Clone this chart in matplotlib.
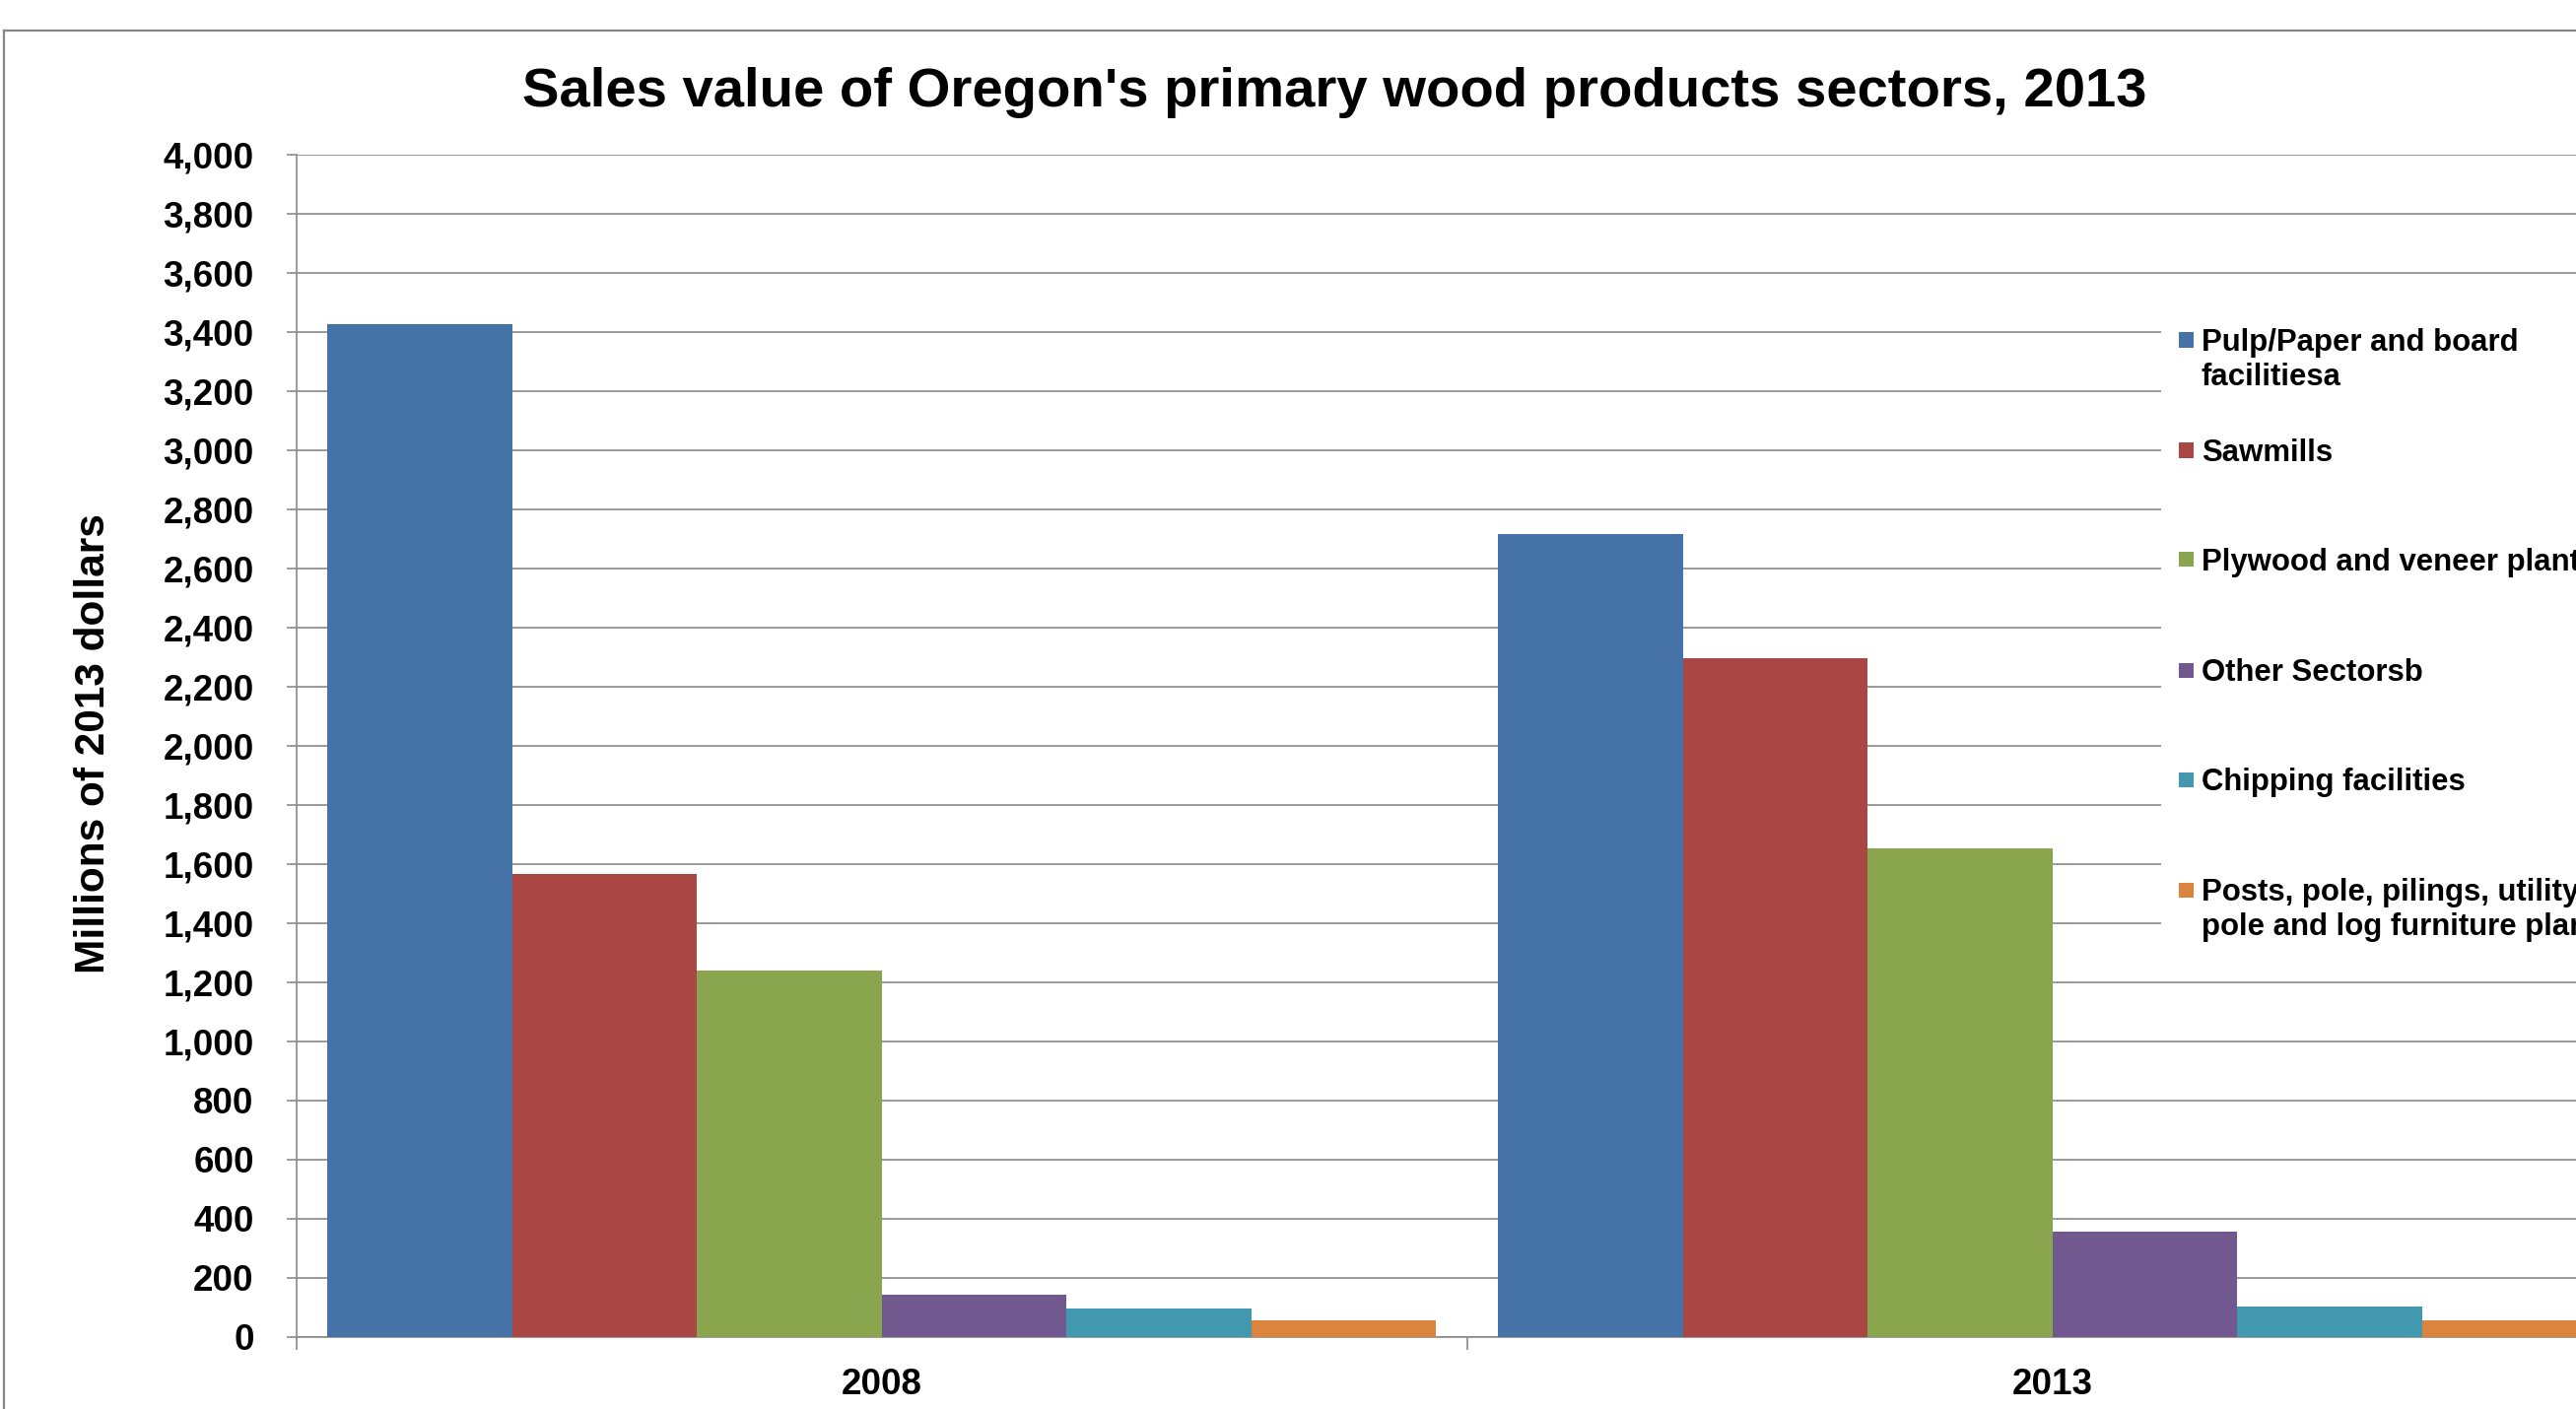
import numpy as np
import matplotlib
matplotlib.use("Agg")
import matplotlib.pyplot as plt
from matplotlib.patches import Rectangle
from matplotlib.lines import Line2D
from matplotlib.ticker import FuncFormatter

plt.rcParams['font.family'] = ['Liberation Sans', 'DejaVu Sans']
plt.rcParams['font.weight'] = 'bold'

# data (millions of 2013 dollars)
years = ["2008", "2013"]
sectors = [
    "Pulp/Paper and board\nfacilitiesa",
    "Sawmills",
    "Plywood and veneer plants",
    "Other Sectorsb",
    "Chipping facilities",
    "Posts, pole, pilings, utility\npole and log furniture plants",
]
pulp_paper = [3427, 2715]
sawmills = [1566, 2295]
plywood = [1241, 1652]
other = [142, 357]
chipping = [96, 102]
posts = [57, 57]
series = [pulp_paper, sawmills, plywood, other, chipping, posts]
colors = ["#4572A7", "#AA4643", "#89A54E", "#71588F", "#4198AF", "#DB843D"]
yticks = list(range(0, 4001, 200))

W, H = 2614, 1430
grid_col = "#8a8a8a"

fig = plt.figure(figsize=(W / 100, H / 100), dpi=100)

# plot area in pixels (right edge runs past the picture, as in the reference)
left, right, top, bottom = 300.7, 2677, 156.7, 1357
ax = fig.add_axes([left / W, 1 - bottom / H, (right - left) / W, (bottom - top) / H])

x = np.arange(len(years))
group = 0.947
w = group / len(series)
for i, (vals, c) in enumerate(zip(series, colors)):
    ax.bar(x - group / 2 + w * (i + 0.5), vals, width=w, color=c, zorder=3, linewidth=0)

ax.set_xlim(-0.5, len(years) - 0.5)
ax.set_ylim(0, 4000)
ax.set_yticks(yticks)
ax.yaxis.set_major_formatter(FuncFormatter(lambda v, p: f"{int(v):,}"))
ax.grid(axis='y', color=grid_col, linewidth=1.2, zorder=0)
ax.set_axisbelow(True)

for s in ['top', 'right']:
    ax.spines[s].set_visible(False)
for s in ['left', 'bottom']:
    ax.spines[s].set_color(grid_col)
    ax.spines[s].set_linewidth(1.2)

ax.tick_params(axis='y', direction='out', length=7.2, width=1.2, color=grid_col,
               pad=23.8, labelsize=26.5)
ax.set_xticks(x)
ax.set_xticklabels(years)
ax.set_xticks(np.arange(-0.5, len(years)), minor=True)
ax.tick_params(axis='x', which='major', length=0, pad=22, labelsize=26.5)
ax.tick_params(axis='x', which='minor', direction='out', length=9.4, width=1.2, color=grid_col)
for lab in ax.get_xticklabels() + ax.get_yticklabels():
    lab.set_fontweight('bold')

# white box behind the legend, covering the gridlines
ax.add_patch(Rectangle((2193 / W, 1 - 970 / H), (W - 2193) / W, (970 - 300) / H,
                       transform=fig.transFigure, facecolor='white', edgecolor='none',
                       zorder=5, clip_on=False))

# legend drawn entry by entry; marker sits on the first text line
first_line = [345, 457, 568, 680, 791, 903]
for lab, c, yc in zip(sectors, colors, first_line):
    fig.patches.append(Rectangle((2211 / W, 1 - (yc + 7.5) / H), 15 / W, 15 / H,
                                 transform=fig.transFigure, facecolor=c,
                                 edgecolor='none', zorder=6))
    fig.text(2234 / W, 1 - (yc - 12) / H, lab, fontsize=22.4, fontweight='bold',
             ha='left', va='top', zorder=6)

fig.text(1354 / W, 1 - 108.3 / H, "Sales value of Oregon's primary wood products sectors, 2013",
         fontsize=40.5, fontweight='bold', ha='center', va='baseline')
fig.text(95 / W, 1 - 755 / H, "Millions of 2013 dollars", fontsize=30.5, fontweight='bold',
         rotation=90, ha='center', va='center')

# outer chart-area border (top and left visible)
fig.add_artist(Line2D([3.5 / W, 3.5 / W], [0, 1 - 31 / H], transform=fig.transFigure,
                      color="#878787", linewidth=1.6))
fig.add_artist(Line2D([3.5 / W, 1], [1 - 31 / H, 1 - 31 / H], transform=fig.transFigure,
                      color="#878787", linewidth=1.6))

fig.savefig("out.png", dpi=100)
